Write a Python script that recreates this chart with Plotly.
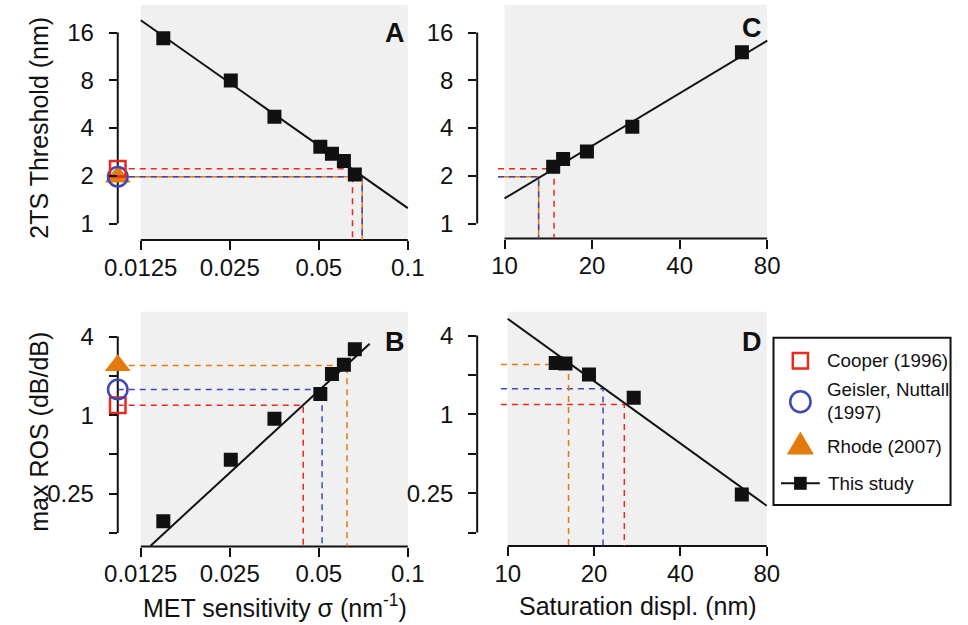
import math
import plotly.graph_objects as go

W, H = 968, 625
FONT = "Liberation Sans, Arial, Helvetica, sans-serif"
RED = "#E8291C"
BLUE = "#3F47B8"
ORANGE = "#E37B0C"
BLACK = "#111111"
GRAY = "#F0F0F0"

# ---------------- data ----------------
SIGMA = [0.0149, 0.0252, 0.0354, 0.0506, 0.0554, 0.0608, 0.0662]      # MET sensitivity (nm^-1)
THRESH_SIGMA = [14.7, 7.96, 4.71, 3.05, 2.75, 2.48, 2.04]             # panel A
ROS_SIGMA = [0.154, 0.455, 0.937, 1.45, 2.06, 2.43, 3.20]              # panel B

SATDISP = [14.7, 15.9, 19.2, 27.5, 65.5]                              # saturation displ. (nm)
THRESH_DISP = [2.28, 2.55, 2.84, 4.08, 12.0]                           # panel C
ROS_DISP = [2.47, 2.44, 2.01, 1.34, 0.244]                             # panel D

FIT_A_X = [0.0125, 0.1]
FIT_A_Y = [19.1, 1.25]
FIT_B_X = [0.0135, 0.0743]
FIT_B_Y = [0.100, 3.52]
FIT_C_X = [10, 80]
FIT_C_Y = [1.44, 14.2]
FIT_D_X = [10, 80]
FIT_D_Y = [5.37, 0.20]

STUDIES = ["Cooper (1996)", "Geisler, Nuttall (1997)", "Rhode (2007)"]
LIT_THRESH = [2.21, 1.97, 1.97]
LIT_ROS = [1.19, 1.57, 2.40]
LIT_SIGMA_FROM_THRESH = [0.0650, 0.0701, 0.0701]
LIT_SIGMA_FROM_ROS = [0.0443, 0.0513, 0.0623]
LIT_DISP_FROM_THRESH = [14.8, 13.1, 13.1]
LIT_DISP_FROM_ROS = [25.5, 21.5, 16.3]

X_TICKS_SIGMA = [0.0125, 0.025, 0.05, 0.1]
X_LABELS_SIGMA = ["0.0125", "0.025", "0.05", "0.1"]
X_TICKS_DISP = [10, 20, 40, 80]
X_LABELS_DISP = ["10", "20", "40", "80"]
Y_TICKS_THRESH = [1, 2, 4, 8, 16]
Y_LABELS_THRESH = ["1", "2", "4", "8", "16"]
Y_TICKS_ROS = [0.25, 1, 4]
Y_LABELS_ROS = ["0.25", "1", "4"]
Y_MINOR_ROS = [0.125, 0.5, 2]

# ---------------- geometry (pixels) ----------------
PANELS = {
    "A": dict(n="", dom_x=(108, 408), dom_y=(5, 240),
              xcal=(0.0125, 131.7, 0.1, 407.0), ycal=(16, 32.5, 1, 223.5)),
    "B": dict(n="2", dom_x=(108, 408), dom_y=(311.7, 546.5),
              xcal=(0.0125, 131.7, 0.1, 407.0), ycal=(4, 336.5, 0.125, 533.0)),
    "C": dict(n="3", dom_x=(478.5, 778.5), dom_y=(5, 238.5),
              xcal=(10, 506.7, 80, 777.5), ycal=(16, 32.5, 1, 223.5)),
    "D": dict(n="4", dom_x=(478.5, 778), dom_y=(311.7, 546),
              xcal=(10, 510.0, 80, 777.0), ycal=(4, 335.5, 0.125, 532.5)),
}


def fx(p):
    return p / W


def fy(p):
    return 1 - p / H


def log_at(cal, p):
    v1, p1, v2, p2 = cal
    k = (math.log10(v2) - math.log10(v1)) / (p2 - p1)
    return math.log10(v1) + k * (p - p1)


for key, P in PANELS.items():
    P["xr"] = [log_at(P["xcal"], P["dom_x"][0]), log_at(P["xcal"], P["dom_x"][1])]
    P["yr"] = [log_at(P["ycal"], P["dom_y"][1]), log_at(P["ycal"], P["dom_y"][0])]
    P["xref"] = "x" + P["n"]
    P["yref"] = "y" + P["n"]

fig = go.Figure()


def add(P, **kw):
    fig.add_trace(go.Scatter(xaxis=P["xref"], yaxis=P["yref"], showlegend=False,
                             hoverinfo="skip", **kw))


def fit_line(P, xs, ys):
    add(P, x=xs, y=ys, mode="lines", line=dict(color=BLACK, width=2))


def squares(P, xs, ys):
    add(P, x=xs, y=ys, mode="markers",
        marker=dict(symbol="square", size=14, color=BLACK, line=dict(width=0)))


COLORS = [RED, BLUE, ORANGE]


def lit_lines(P, yvals, xvals, x_start, order, solid):
    ybot = 10 ** P["yr"][0]
    for i in order:
        add(P, x=[x_start, xvals[i], xvals[i]], y=[yvals[i], yvals[i], ybot], mode="lines",
            line=dict(color=COLORS[i], width=1.5, dash="solid" if i in solid else "6px,5px"))


def lit_markers(P, yvals, order):
    xl = 10 ** P["xr"][0]
    syms = [dict(symbol="square-open", size=15.5, color=RED, line=dict(width=2.5, color=RED)),
            dict(symbol="circle-open", size=19.5, color=BLUE, line=dict(width=2.5, color=BLUE)),
            dict(symbol="triangle-up", size=22.5, color=ORANGE, line=dict(width=0))]
    for i in order:
        add(P, x=[xl], y=[yvals[i]], mode="markers", marker=syms[i], cliponaxis=False)


def start_px(P, p):
    return 10 ** log_at(P["xcal"], p)


A, B, C, D = PANELS["A"], PANELS["B"], PANELS["C"], PANELS["D"]

# Panel A
lit_lines(A, LIT_THRESH, LIT_SIGMA_FROM_THRESH, 10 ** A["xr"][0], [2, 0, 1], solid=[2])
fit_line(A, FIT_A_X, FIT_A_Y)
squares(A, SIGMA, THRESH_SIGMA)
lit_markers(A, LIT_THRESH, [2, 1, 0])

# Panel B
lit_lines(B, LIT_ROS, LIT_SIGMA_FROM_ROS, 10 ** B["xr"][0], [0, 1, 2], solid=[])
fit_line(B, FIT_B_X, FIT_B_Y)
squares(B, SIGMA, ROS_SIGMA)
lit_markers(B, LIT_ROS, [0, 1, 2])

# Panel C
lit_lines(C, LIT_THRESH, LIT_DISP_FROM_THRESH, start_px(C, 500), [2, 0, 1], solid=[2])
fit_line(C, FIT_C_X, FIT_C_Y)
squares(C, SATDISP, THRESH_DISP)

# Panel D
lit_lines(D, LIT_ROS, LIT_DISP_FROM_ROS, start_px(D, 503), [0, 1, 2], solid=[])
fit_line(D, FIT_D_X, FIT_D_Y)
squares(D, SATDISP, ROS_DISP)

# ---------------- axes ----------------
layout = dict(width=W, height=H, margin=dict(l=0, r=0, t=0, b=0, pad=0), autosize=False,
              paper_bgcolor="white", plot_bgcolor="rgba(0,0,0,0)", showlegend=False,
              font=dict(family=FONT, color=BLACK))
shapes = []
axis_common = dict(type="log", showgrid=False, zeroline=False, showline=False,
                   ticks="outside", tickwidth=2, tickcolor=BLACK,
                   tickfont=dict(size=24, family=FONT, color=BLACK), fixedrange=True)

for key, P in PANELS.items():
    is_sigma = key in ("A", "B")
    is_thresh = key in ("A", "C")
    xt, xl = (X_TICKS_SIGMA, X_LABELS_SIGMA) if is_sigma else (X_TICKS_DISP, X_LABELS_DISP)
    yt, yl = (Y_TICKS_THRESH, Y_LABELS_THRESH) if is_thresh else (Y_TICKS_ROS, Y_LABELS_ROS)
    yaxis = dict(axis_common, domain=[fy(P["dom_y"][1]), fy(P["dom_y"][0])],
                 range=P["yr"], anchor=P["xref"], tickvals=yt, ticktext=yl,
                 ticklen=8, ticklabelstandoff=10)
    if not is_thresh:
        yaxis["minor"] = dict(tickmode="array", tickvals=Y_MINOR_ROS, ticks="outside",
                              ticklen=8, tickwidth=2, tickcolor=BLACK, showgrid=False)
    layout["xaxis" + P["n"]] = dict(axis_common, domain=[fx(P["dom_x"][0]), fx(P["dom_x"][1])],
                                    range=P["xr"], anchor=P["yref"], tickvals=xt, ticktext=xl,
                                    ticklen=9, ticklabelstandoff=-3)
    layout["yaxis" + P["n"]] = yaxis
    ylo = Y_MINOR_ROS[0] if not is_thresh else yt[0]
    # gray plotting region
    shapes.append(dict(type="rect", xref=P["xref"], yref=P["yref"] + " domain",
                       x0=xt[0], x1=xt[-1], y0=0, y1=1, fillcolor=GRAY,
                       line=dict(width=0), layer="below"))
    # axis lines spanning the tick range only
    shapes.append(dict(type="line", xref=P["xref"], yref=P["yref"] + " domain",
                       x0=xt[0], x1=xt[-1], y0=0, y1=0, line=dict(color=BLACK, width=2),
                       layer="below"))
    shapes.append(dict(type="line", xref=P["xref"] + " domain", yref=P["yref"],
                       x0=0, x1=0, y0=ylo, y1=yt[-1], line=dict(color=BLACK, width=2),
                       layer="below"))

annotations = []


def ann(x, y, text, size, angle=0, xanchor="center"):
    annotations.append(dict(xref="paper", yref="paper", x=fx(x), y=fy(y), text=text,
                            showarrow=False, textangle=angle, xanchor=xanchor, yanchor="middle",
                            font=dict(family=FONT, size=size, color=BLACK)))


# panel letters
ann(393.5, 32.5, "<b>A</b>", 27)
ann(394, 341.7, "<b>B</b>", 27)
ann(761.7, 28, "<b>C</b>", 27)
ann(762, 341.7, "<b>D</b>", 27)

# axis titles
ann(27, 127.5, "2TS Threshold (nm)", 25, angle=-90)
ann(26, 431.5, "max ROS (dB/dB)", 25, angle=-90)
ann(270.5, 606, "MET sensitivity σ (nm<sup>-1</sup>)", 25)
ann(644, 606, "Saturation displ. (nm)", 25)

# legend (drawn by hand)
LX = 811.7
shapes.append(dict(type="rect", xref="paper", yref="paper", x0=fx(784), x1=fx(966.5),
                   y0=fy(505), y1=fy(337.7), line=dict(color=BLACK, width=2), fillcolor="white"))
shapes.append(dict(type="rect", xref="paper", yref="paper", x0=fx(LX - 7.8), x1=fx(LX + 7.8),
                   y0=fy(360.7 + 7.8), y1=fy(360.7 - 7.8), line=dict(color=RED, width=2.5)))
shapes.append(dict(type="circle", xref="paper", yref="paper", x0=fx(LX - 10.5), x1=fx(LX + 10.5),
                   y0=fy(401.7 + 10.5), y1=fy(401.7 - 10.5), line=dict(color=BLUE, width=2.5)))
tri = "M {:.5f} {:.5f} L {:.5f} {:.5f} L {:.5f} {:.5f} Z".format(
    fx(LX - 14), fy(454.5), fx(LX + 14), fy(454.5), fx(LX), fy(431.5))
shapes.append(dict(type="path", xref="paper", yref="paper", path=tri,
                   fillcolor=ORANGE, line=dict(width=0)))
shapes.append(dict(type="line", xref="paper", yref="paper", x0=fx(LX - 20), x1=fx(LX + 20),
                   y0=fy(483.3), y1=fy(483.3), line=dict(color=BLACK, width=2)))
shapes.append(dict(type="rect", xref="paper", yref="paper", x0=fx(LX - 6.5), x1=fx(LX + 6.5),
                   y0=fy(483.3 + 6.5), y1=fy(483.3 - 6.5), fillcolor=BLACK, line=dict(width=0)))

LEG_FS = 18.8
ann(837, 360.7, STUDIES[0], LEG_FS, xanchor="left")
ann(837, 389.5, "Geisler, Nuttall", LEG_FS, xanchor="left")
ann(837, 412.7, "(1997)", LEG_FS, xanchor="left")
ann(837, 446.5, STUDIES[2], LEG_FS, xanchor="left")
ann(838, 483.3, "This study", LEG_FS, xanchor="left")

layout["shapes"] = shapes
layout["annotations"] = annotations
fig.update_layout(**layout)
# remove the browser's default 8px page margin so the figure fills the window exactly
fig.write_html("out.html", config={"displayModeBar": False},
               post_script="document.body.style.margin='0';document.body.style.overflow='hidden';")
